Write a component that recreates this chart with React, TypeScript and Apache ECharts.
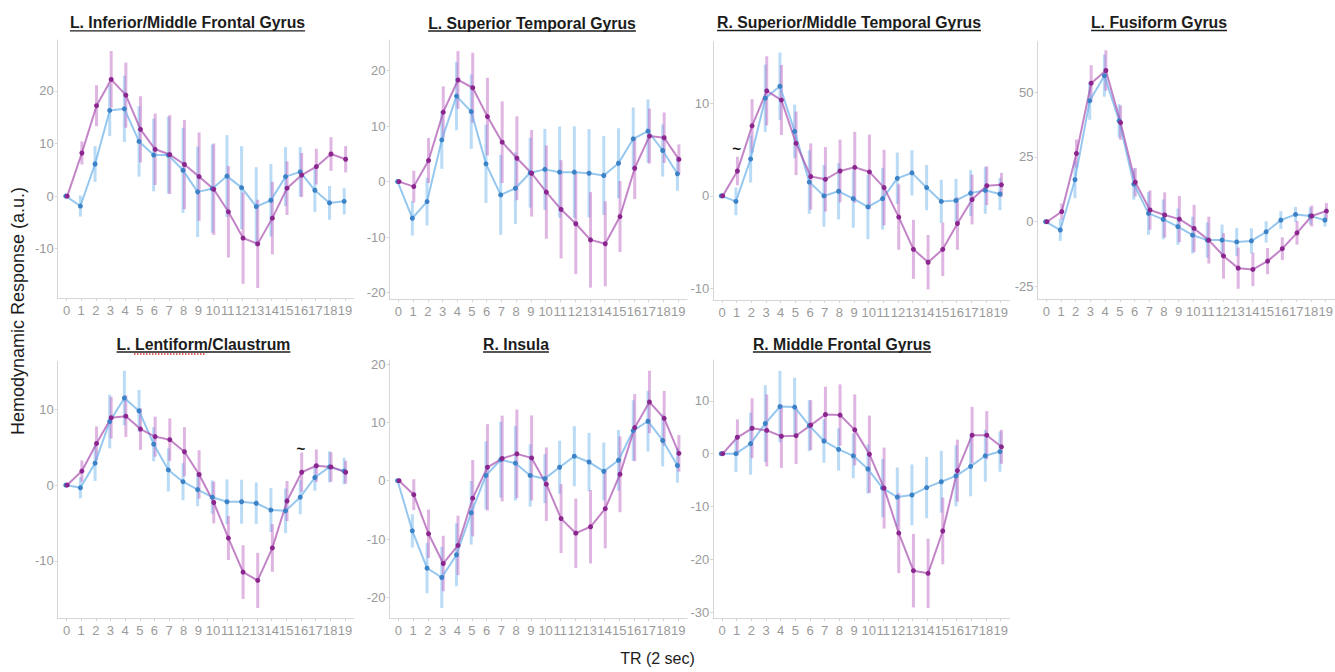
import React, { useEffect, useRef } from "react";
import * as echarts from "echarts";

// ---------------- data ----------------
const TR = [0, 1, 2, 3, 4, 5, 6, 7, 8, 9, 10, 11, 12, 13, 14, 15, 16, 17, 18, 19];

const panelTitles = [
  "L. Inferior/Middle Frontal Gyrus",
  "L. Superior Temporal Gyrus",
  "R. Superior/Middle Temporal Gyrus",
  "L. Fusiform Gyrus",
  "L. Lentiform/Claustrum",
  "R. Insula",
  "R. Middle Frontal Gyrus",
];

const yTicks = [
  [-10, 0, 10, 20],
  [-20, -10, 0, 10, 20],
  [-10, 0, 10],
  [-25, 0, 25, 50],
  [-10, 0, 10],
  [-20, -10, 0, 10, 20],
  [-30, -20, -10, 0, 10],
];

const yRanges = [
  [-19.4, 29.7],
  [-21.2, 25.5],
  [-11.3, 16.7],
  [-29.8, 69.4],
  [-17.6, 16.3],
  [-23.6, 20.7],
  [-31.1, 17.7],
];

// panel 1
const p1PurpleMean = [0, 8.2, 17.2, 22.2, 19.2, 12.7, 8.9, 7.9, 6.0, 3.7, 1.3, -3.0, -8.0, -9.1, -4.2, 1.5, 4.0, 5.6, 8.0, 7.0];
const p1PurpleErr = [0, 2.2, 3.9, 5.4, 6.2, 6.3, 6.8, 7.5, 8.5, 8.4, 8.7, 8.7, 8.7, 8.4, 6.9, 5.1, 4.2, 3.4, 3.2, 2.5];
const p1BlueMean = [0, -1.9, 6.1, 16.3, 16.6, 10.4, 7.8, 7.8, 4.9, 0.8, 1.4, 3.8, 1.6, -2.0, -0.8, 3.7, 4.6, 1.1, -1.3, -1.0];
const p1BlueErr = [0, 2.0, 3.4, 4.9, 6.3, 6.7, 6.9, 7.3, 8.1, 8.6, 8.4, 7.8, 7.9, 7.5, 6.9, 5.6, 4.7, 4.1, 3.2, 2.5];

// panel 2
const p2PurpleMean = [0, -0.9, 3.8, 12.5, 18.3, 16.9, 11.7, 7.1, 4.2, 1.5, -1.9, -5.0, -7.6, -10.5, -11.2, -6.3, 2.4, 8.2, 7.9, 4.0];
const p2PurpleErr = [0, 2.85, 4.05, 4.65, 5.2, 6.3, 7.0, 7.35, 7.55, 7.8, 8.4, 8.85, 9.05, 8.6, 7.65, 6.4, 5.55, 4.95, 4.55, 2.7];
const p2BlueMean = [0, -6.6, -3.6, 7.5, 15.4, 12.6, 3.2, -2.4, -1.2, 1.6, 2.2, 1.7, 1.7, 1.5, 1.1, 3.3, 7.7, 9.1, 5.6, 1.4];
const p2BlueErr = [0, 3.1, 4.3, 5.2, 6.15, 6.7, 7.05, 7.2, 6.45, 6.3, 7.3, 8.2, 8.25, 7.95, 7.1, 6.3, 5.65, 5.7, 4.7, 3.05];

// panel 3
const p3PurpleMean = [0, 2.7, 7.6, 11.4, 10.4, 5.7, 2.1, 1.8, 2.7, 3.1, 2.6, 0.9, -2.3, -5.8, -7.2, -5.8, -3.0, -0.4, 1.1, 1.2];
const p3PurpleErr = [0, 1.55, 2.9, 3.75, 3.8, 3.45, 3.6, 3.5, 3.4, 3.85, 4.05, 4.1, 3.55, 3.2, 2.95, 2.9, 2.85, 2.7, 2.1, 1.3];
const p3BlueMean = [0, -0.6, 4.0, 10.6, 11.9, 7.0, 1.5, 0, 0.5, -0.3, -1.2, -0.3, 1.9, 2.5, 0.9, -0.6, -0.5, 0.3, 0.6, 0.2];
const p3BlueErr = [0, 1.5, 2.55, 3.65, 3.65, 2.9, 3.45, 3.35, 3.05, 3.15, 3.5, 3.35, 2.8, 2.45, 2.45, 2.35, 2.35, 2.5, 2.55, 1.75];

// panel 4
const p4PurpleMean = [0, 3.9, 26.3, 53.4, 58.3, 38.2, 15.2, 4.5, 2.6, 1.0, -2.6, -7.1, -13.2, -17.9, -18.4, -15.2, -10.4, -4.3, 2.2, 4.1];
const p4PurpleErr = [0, 3.1, 5.4, 6.95, 7.8, 6.6, 5.5, 7.6, 8.7, 8.9, 9.1, 9.05, 8.75, 7.95, 6.45, 5.05, 4.4, 4.55, 4.0, 3.1];
const p4BlueMean = [0, -3.2, 16.2, 46.6, 56.3, 38.9, 14.5, 3.2, 0.9, -1.9, -5.2, -7.1, -7.1, -7.8, -7.4, -3.9, 0.6, 2.8, 2.2, 0.6];
const p4BlueErr = [0, 4.2, 7.15, 7.3, 8.1, 6.45, 6.0, 8.25, 7.65, 6.95, 7.1, 6.8, 6.0, 5.35, 4.85, 4.1, 3.45, 2.9, 3.35, 2.45];

// panel 5
const p5PurpleMean = [0, 1.85, 5.5, 8.9, 9.1, 7.4, 6.4, 6.0, 4.4, 1.4, -2.3, -7.0, -11.5, -12.6, -8.3, -2.1, 1.7, 2.55, 2.4, 1.7];
const p5PurpleErr = [0, 1.4, 2.25, 2.75, 2.75, 2.75, 2.65, 2.8, 3.25, 3.2, 2.75, 2.9, 3.55, 3.65, 3.15, 2.65, 2.6, 2.15, 1.95, 1.5];
const p5BlueMean = [0, -0.35, 2.9, 8.4, 11.5, 9.8, 5.4, 2.0, 0.45, -0.6, -1.6, -2.2, -2.2, -2.4, -3.3, -3.4, -1.6, 1.0, 2.4, 1.85];
const p5BlueErr = [0, 1.4, 2.35, 3.55, 3.6, 2.75, 2.25, 2.85, 2.45, 2.2, 2.2, 2.95, 2.9, 2.75, 2.9, 2.95, 2.25, 1.75, 2.05, 1.75];

// panel 6
const p6PurpleMean = [0, -2.4, -9.1, -14.2, -11.1, -3.0, 2.3, 3.8, 4.6, 3.9, -0.6, -6.5, -9.0, -7.9, -4.8, 1.1, 9.1, 13.5, 10.7, 4.7];
const p6PurpleErr = [0, 2.65, 4.15, 4.75, 5.1, 6.55, 7.4, 7.35, 7.6, 7.3, 6.3, 5.9, 5.95, 6.3, 6.8, 6.5, 5.75, 5.35, 4.7, 3.15];
const p6BlueMean = [0, -8.6, -15.0, -16.6, -12.7, -5.5, 0.9, 3.6, 3.0, 0.9, 0.35, 2.3, 4.2, 3.2, 1.6, 3.5, 8.6, 10.2, 6.9, 2.6];
const p6BlueErr = [0, 2.85, 4.3, 5.25, 5.4, 5.45, 5.85, 6.5, 6.4, 5.35, 4.2, 4.55, 5.15, 5.0, 4.95, 5.2, 5.2, 5.2, 4.45, 2.95];

// panel 7
const p7PurpleMean = [0, 3.1, 4.8, 4.4, 3.3, 3.4, 5.4, 7.4, 7.3, 4.5, -0.1, -6.5, -15.0, -22.1, -22.6, -14.6, -3.2, 3.5, 3.5, 1.3];
const p7PurpleErr = [0, 3.4, 5.65, 6.8, 6.0, 5.35, 4.7, 5.25, 5.8, 6.7, 7.3, 7.65, 7.55, 6.95, 6.55, 6.3, 5.85, 5.35, 4.55, 3.2];
const p7BlueMean = [0, 0, 1.9, 5.7, 8.9, 8.8, 5.3, 2.4, 0.8, -0.4, -2.9, -6.5, -8.2, -7.8, -6.4, -5.3, -4.2, -2.4, -0.4, 0.4];
const p7BlueErr = [0, 3.45, 5.85, 7.25, 6.75, 5.55, 4.85, 4.1, 4.0, 4.25, 4.65, 5.5, 5.6, 5.75, 5.8, 5.85, 5.75, 5.65, 4.9, 3.8];

// significance marks: [panel index, TR, y value]
const sigMarks = [
  [2, 1, 5.1],
  [4, 16, 4.85],
];

const purpleMeans = [p1PurpleMean, p2PurpleMean, p3PurpleMean, p4PurpleMean, p5PurpleMean, p6PurpleMean, p7PurpleMean];
const purpleErrs = [p1PurpleErr, p2PurpleErr, p3PurpleErr, p4PurpleErr, p5PurpleErr, p6PurpleErr, p7PurpleErr];
const blueMeans = [p1BlueMean, p2BlueMean, p3BlueMean, p4BlueMean, p5BlueMean, p6BlueMean, p7BlueMean];
const blueErrs = [p1BlueErr, p2BlueErr, p3BlueErr, p4BlueErr, p5BlueErr, p6BlueErr, p7BlueErr];

// ---------------- layout / style ----------------
const FONT = "'Liberation Sans', Arial, Helvetica, sans-serif";
const grids = [
  { left: 57.7, top: 40, width: 296, height: 258 },
  { left: 389.5, top: 40, width: 297.5, height: 259.3 },
  { left: 713.2, top: 42, width: 296.3, height: 258 },
  { left: 1037.5, top: 41.7, width: 297, height: 257.3 },
  { left: 57.7, top: 361.7, width: 296, height: 256.6 },
  { left: 389.5, top: 360, width: 297.5, height: 258.3 },
  { left: 713.2, top: 360, width: 296.3, height: 258.3 },
];
const titlePos = [
  [187.5, 22, 30.8],
  [532, 23, 31],
  [849, 22, 30.5],
  [1159, 22, 30.5],
  [203.5, 344, 352],
  [516, 344, 352],
  [842, 344, 352],
];

const PURPLE_ERR = "rgba(185, 90, 190, 0.45)";
const PURPLE_LINE = "rgba(170, 80, 175, 0.7)";
const PURPLE_PT = "#8c268f";
const BLUE_ERR = "rgba(100, 175, 235, 0.45)";
const BLUE_LINE = "rgba(105, 175, 232, 0.7)";
const BLUE_PT = "#3b82c6";
const DODGE = 0.05;

function measure(text: string, font: string): number {
  const c = document.createElement("canvas").getContext("2d");
  if (!c) return text.length * 8;
  c.font = font;
  return c.measureText(text).width;
}

function errSeries(i: number, means: number[], errs: number[], color: string, dx: number) {
  return {
    type: "custom",
    xAxisIndex: i,
    yAxisIndex: i,
    silent: true,
    encode: { x: 0, y: [1, 2] },
    data: TR.map((t, k) => [t + dx, means[k] - errs[k], means[k] + errs[k]]),
    renderItem: (params: any, api: any) => {
      const x = api.value(0);
      const lo = api.coord([x, api.value(1)]);
      const hi = api.coord([x, api.value(2)]);
      return {
        type: "line",
        shape: { x1: lo[0], y1: lo[1], x2: hi[0], y2: hi[1] },
        style: { stroke: color, lineWidth: 3 },
      };
    },
    z: 1,
  };
}

function lineSeries(i: number, means: number[], lineColor: string, ptColor: string, dx: number) {
  return {
    type: "line",
    xAxisIndex: i,
    yAxisIndex: i,
    silent: true,
    data: TR.map((t, k) => [t + dx, means[k]]),
    symbol: "circle",
    symbolSize: 5,
    showSymbol: true,
    itemStyle: { color: ptColor },
    lineStyle: { color: lineColor, width: 2 },
    z: 2,
  };
}

export default function App() {
  const ref = useRef<HTMLDivElement>(null);

  useEffect(() => {
    if (!ref.current) return;
    const chart = echarts.init(ref.current, undefined, { renderer: "svg" });

    const xAxis: any[] = [];
    const yAxis: any[] = [];
    const series: any[] = [];
    const graphic: any[] = [];
    const axisLine = { show: true, onZero: false, lineStyle: { color: "#d6d6d6", width: 1 } };
    const tickStyle = { show: true, length: 3, lineStyle: { color: "#d6d6d6" } };

    grids.forEach((g, i) => {
      xAxis.push({
        type: "value",
        gridIndex: i,
        min: -0.6,
        max: 19.6,
        axisLine,
        splitLine: { show: false },
        axisTick: { ...tickStyle, customValues: TR },
        axisLabel: {
          customValues: TR,
          color: "#9a9a9a",
          fontSize: 13,
          fontFamily: FONT,
          margin: 6,
        },
      });
      yAxis.push({
        type: "value",
        gridIndex: i,
        min: yRanges[i][0],
        max: yRanges[i][1],
        axisLine,
        splitLine: { show: false },
        axisTick: { ...tickStyle, customValues: yTicks[i] },
        axisLabel: {
          customValues: yTicks[i],
          color: "#9a9a9a",
          fontSize: 13,
          fontFamily: FONT,
          margin: 4,
        },
      });
      series.push(errSeries(i, blueMeans[i], blueErrs[i], BLUE_ERR, -DODGE));
      series.push(errSeries(i, purpleMeans[i], purpleErrs[i], PURPLE_ERR, DODGE));
      series.push(lineSeries(i, blueMeans[i], BLUE_LINE, BLUE_PT, -DODGE));
      series.push(lineSeries(i, purpleMeans[i], PURPLE_LINE, PURPLE_PT, DODGE));

      const [cx, cy, uy] = titlePos[i];
      const tFont = `bold 15.8px ${FONT}`;
      const w = measure(panelTitles[i], tFont);
      graphic.push({
        type: "text",
        x: cx,
        y: cy,
        style: {
          text: panelTitles[i],
          font: tFont,
          fill: "#1c1c1c",
          align: "center",
          verticalAlign: "middle",
        },
      });
      graphic.push({
        type: "line",
        shape: { x1: cx - w / 2, y1: uy, x2: cx + w / 2, y2: uy },
        style: { stroke: "#1c1c1c", lineWidth: 1.3 },
      });
    });

    sigMarks.forEach(([p, t, y]) => {
      series.push({
        type: "scatter",
        xAxisIndex: p,
        yAxisIndex: p,
        silent: true,
        data: [[t, y]],
        symbolSize: 1,
        itemStyle: { color: "rgba(0,0,0,0)", opacity: 1 },
        label: {
          show: true,
          position: "inside",
          formatter: "~",
          color: "#111111",
          opacity: 1,
          fontSize: 15,
          fontWeight: "bold",
          fontFamily: FONT,
        },
        z: 5,
      });
    });

    // spell-check squiggle under "Lentiform"
    graphic.push({
      type: "line",
      shape: { x1: 134, y1: 354, x2: 205, y2: 354 },
      style: { stroke: "#e03030", lineWidth: 1.5, lineDash: [1.5, 1.5] },
    });

    graphic.push({
      type: "text",
      x: 17.5,
      y: 311,
      rotation: Math.PI / 2,
      style: {
        text: "Hemodynamic Response (a.u.)",
        font: `18px ${FONT}`,
        fill: "#1c1c1c",
        align: "center",
        verticalAlign: "middle",
      },
    });
    graphic.push({
      type: "text",
      x: 657.5,
      y: 658,
      style: {
        text: "TR (2 sec)",
        font: `16px ${FONT}`,
        fill: "#1c1c1c",
        align: "center",
        verticalAlign: "middle",
      },
    });

    chart.setOption({
      animation: false,
      backgroundColor: "#ffffff",
      grid: grids.map((g) => ({ ...g, containLabel: false, outerBoundsMode: "none" })),
      xAxis,
      yAxis,
      series,
      graphic,
    });

    return () => chart.dispose();
  }, []);

  return (
    <div
      ref={ref}
      style={{ position: "absolute", left: 0, top: 0, width: 1335, height: 672, background: "#fff" }}
    />
  );
}
